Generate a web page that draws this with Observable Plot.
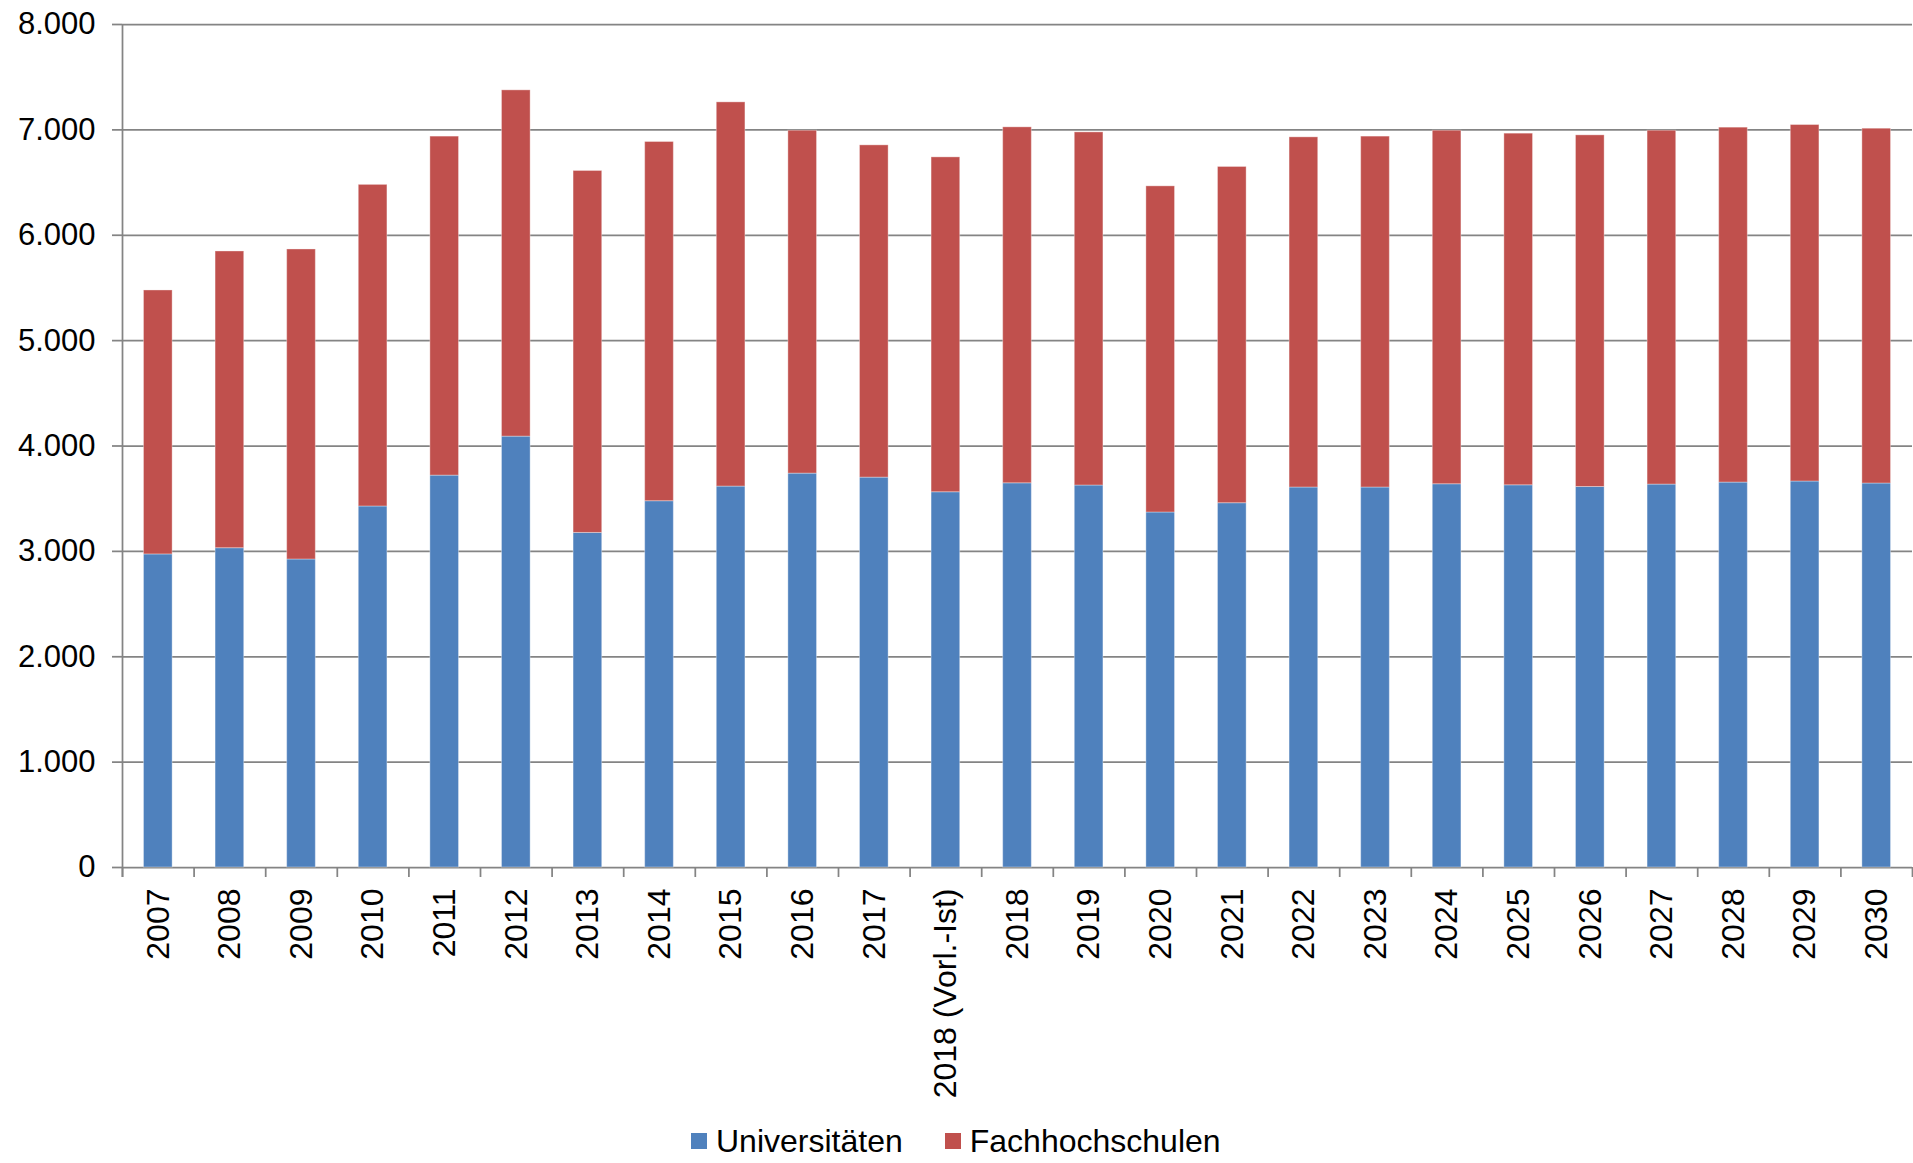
<!DOCTYPE html>
<html>
<head>
<meta charset="utf-8">
<script src="https://cdn.jsdelivr.net/npm/d3@7"></script>
<script src="https://cdn.jsdelivr.net/npm/@observablehq/plot@0.6"></script>
<style>
  body { margin: 0; background: #fff; font-family: "Liberation Sans", Arial, sans-serif; }
  #chart { position: relative; width: 1913px; height: 1163px; }
  #legend { position: absolute; left: 691px; top: 1123px; display: flex; align-items: center; font-size: 32px; color: #000; line-height: 36px; }
  .item { display: flex; align-items: center; margin-right: 42px; }
  .sw { display: inline-block; width: 16px; height: 16px; margin-right: 9px; }
</style>
</head>
<body>
<div id="chart"><div id="legend"></div></div>
<script>
const categories = ["2007","2008","2009","2010","2011","2012","2013","2014","2015","2016","2017","2018 (Vorl.-Ist)","2018","2019","2020","2021","2022","2023","2024","2025","2026","2027","2028","2029","2030"];
const universitaeten = [2971,3030,2923,3426,3719,4089,3175,3476,3615,3738,3700,3561,3646,3625,3369,3457,3606,3606,3637,3627,3611,3634,3653,3663,3644];
const fachhochschulen = [2505,2816,2942,3052,3217,3286,3435,3409,3646,3254,3153,3178,3378,3351,3095,3191,3323,3330,3355,3337,3337,3358,3368,3383,3367];
const seriesNames = ["Universitäten", "Fachhochschulen"];
const seriesColors = ["#4F81BD", "#C0504D"];
const yTicks = [0,1000,2000,3000,4000,5000,6000,7000,8000];

const seriesValues = [universitaeten, fachhochschulen];
const data = [];
seriesNames.forEach((s, si) => {
  categories.forEach((c, i) => data.push({category: c, series: s, value: seriesValues[si][i]}));
});

const de = d3.formatLocale({decimal: ",", thousands: ".", grouping: [3], currency: ["", " €"]});
const fmt = de.format(",");

const W = 1913, H = 1110, mTop = 24, mBottom = 243, mLeft = 122, mRight = 1;
const plotH = H - mTop - mBottom;
const step = (W - mLeft - mRight) / categories.length;
const gridColor = "#848484";
const lw = 1.75;

const chart = Plot.plot({
  width: W, height: H,
  marginTop: mTop, marginBottom: mBottom, marginLeft: mLeft, marginRight: mRight,
  style: {fontFamily: "'Liberation Sans', Arial, sans-serif", fontSize: "31px", color: "#000", background: "#fff", overflow: "visible"},
  x: {domain: categories, paddingInner: 0.6, paddingOuter: 0.3, round: false, label: null},
  y: {domain: [0, 8000], label: null},
  color: {domain: seriesNames, range: seriesColors},
  marks: [
    Plot.ruleY(yTicks, {stroke: gridColor, strokeWidth: lw}),
    Plot.barY(data, {x: "category", y: "value", fill: "series", stroke: "#fff", strokeOpacity: 0.35, strokeWidth: 1}),
    Plot.axisY({ticks: yTicks, tickSize: 10, tickPadding: 17, tickFormat: fmt, stroke: gridColor, strokeWidth: lw, fill: "#000", fontSize: 31, label: null}),
    Plot.axisX({tickSize: 0, tickRotate: -90, tickPadding: 21, fill: "#000", fontSize: 32, label: null}),
    Plot.ruleX(categories, {x: d => d, dx: -step / 2, stroke: gridColor, strokeWidth: lw, insetTop: plotH, insetBottom: -10}),
    Plot.ruleX([categories[0]], {x: d => d, dx: -step / 2, stroke: gridColor, strokeWidth: lw, insetBottom: -10}),
    Plot.ruleX([categories[categories.length - 1]], {x: d => d, dx: step / 2, stroke: gridColor, strokeWidth: lw, insetTop: plotH, insetBottom: -10})
  ]
});
document.getElementById("chart").insertBefore(chart, document.getElementById("legend"));

const legend = document.getElementById("legend");
seriesNames.forEach((s, i) => {
  const item = document.createElement("div");
  item.className = "item";
  const sw = document.createElement("span");
  sw.className = "sw";
  sw.style.background = seriesColors[i];
  const t = document.createElement("span");
  t.textContent = s;
  item.appendChild(sw);
  item.appendChild(t);
  legend.appendChild(item);
});
</script>
</body>
</html>
